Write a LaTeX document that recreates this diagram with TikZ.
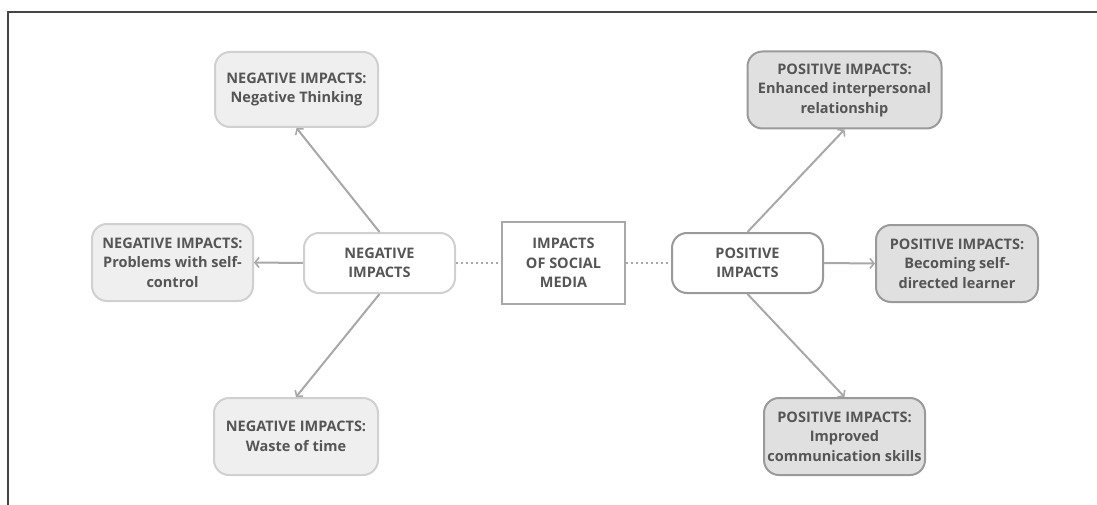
\documentclass[tikz,border=0pt]{standalone}
\usepackage{fontspec}
\setmainfont{Open Sans}
\usetikzlibrary{arrows.meta}
\definecolor{txt}{HTML}{555555}
\definecolor{negfill}{HTML}{EFEFEF}
\definecolor{negline}{HTML}{D0D0D0}
\definecolor{posfill}{HTML}{E0E0E0}
\definecolor{posline}{HTML}{9A9A9A}
\definecolor{link}{HTML}{A8A8A8}
\definecolor{frame}{HTML}{444444}
\tikzset{
  box/.style={rounded corners=15pt, line width=2pt, align=center, text=txt,
    font=\fontsize{14.5}{19.5}\selectfont\bfseries, inner sep=0pt},
  negbox/.style={box, draw=negline, fill=negfill},
  posbox/.style={box, draw=posline, fill=posfill},
  hubneg/.style={box, draw=negline, fill=white},
  hubpos/.style={box, draw=posline, fill=white},
  centerbox/.style={draw=link, line width=2pt, fill=white, align=center, text=txt,
    font=\fontsize{14.5}{19.5}\selectfont\bfseries, inner sep=0pt},
  arr/.style={draw=link, line width=2pt, -{Straight Barb[length=4pt,width=10pt,line width=1.6pt]}},
  dots/.style={draw=link, line width=2pt, dash pattern=on 2pt off 3pt}
}
\begin{document}
\begin{tikzpicture}[x=1pt,y=-1pt]
\useasboundingbox (0,0) rectangle (1097,505);
% frame edges
\draw[frame, line width=1.3pt] (8,505) -- (8,12) -- (1097,12);

% hubs
\node[centerbox, minimum width=123pt, minimum height=82pt] (c) at (563.5,263) {IMPACTS\\OF SOCIAL\\MEDIA};
\node[hubneg, minimum width=151pt, minimum height=60pt] (neg) at (379.5,263) {NEGATIVE\\IMPACTS};
\node[hubpos, minimum width=151pt, minimum height=60pt] (pos) at (747.5,263) {POSITIVE\\IMPACTS};

% negative impacts
\node[negbox, minimum width=163pt, minimum height=75pt] (nt) at (296.5,89.5) {NEGATIVE IMPACTS:\\Negative Thinking};
\node[negbox, minimum width=161pt, minimum height=77pt] (nsc) at (172.5,262.5) {NEGATIVE IMPACTS:\\Problems with self-\\control};
\node[negbox, minimum width=164pt, minimum height=77pt] (nw) at (296,436.5) {NEGATIVE IMPACTS:\\Waste of time};

% positive impacts
\node[posbox, minimum width=194pt, minimum height=77pt] (pe) at (844.5,90) {POSITIVE IMPACTS:\\Enhanced interpersonal\\relationship};
\node[posbox, minimum width=162pt, minimum height=77pt] (pb) at (957,263.5) {POSITIVE IMPACTS:\\Becoming self-\\directed learner};
\node[posbox, minimum width=161pt, minimum height=77pt] (pi) at (844.5,436.5) {POSITIVE IMPACTS:\\Improved\\communication skills};

% dotted links to the centre
\draw[dots] (neg.east) -- (c.west);
\draw[dots] (c.east) -- (pos.west);

% arrows
\draw[arr] (neg.north) -- (nt.south);
\draw[arr] (neg.west) -- (nsc.east);
\draw[arr] (neg.south) -- (nw.north);
\draw[arr] (pos.north) -- (pe.south);
\draw[arr] (pos.east) -- (pb.west);
\draw[arr] (pos.south) -- (pi.north);
\end{tikzpicture}
\end{document}
